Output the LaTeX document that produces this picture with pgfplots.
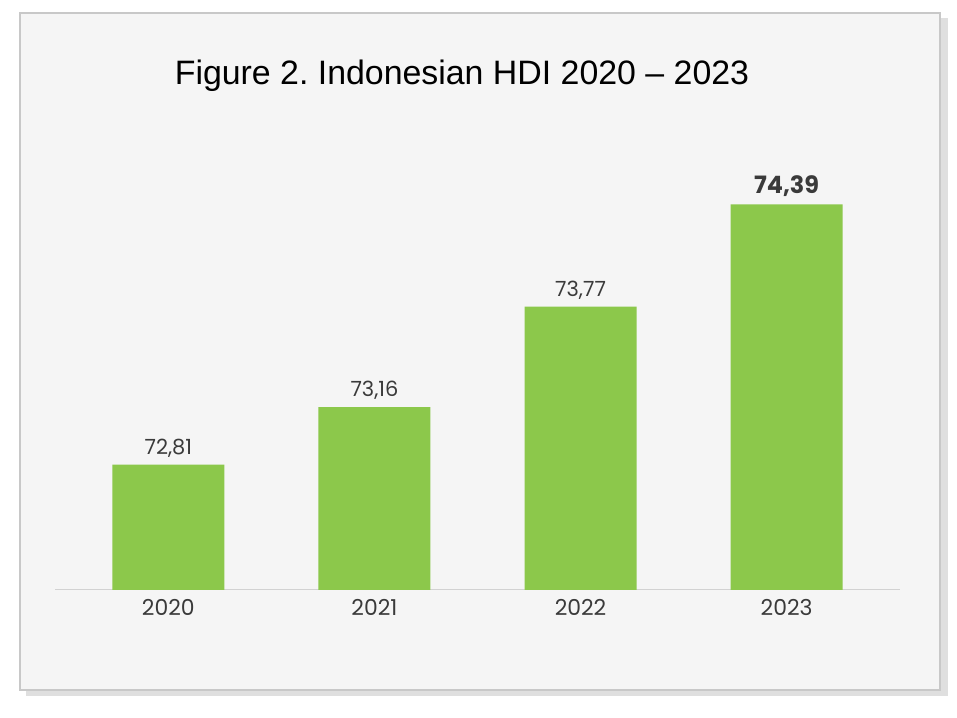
\documentclass[border=0pt]{standalone}
\usepackage{pgfplots}
\pgfplotsset{compat=1.18}
\usepackage{fontspec}
\setmainfont{Liberation Sans}
\newfontfamily\pop{Poppins}
\definecolor{bargreen}{HTML}{8CC84B}
\definecolor{panel}{HTML}{F5F5F5}
\definecolor{edge}{HTML}{C8C8C8}
\definecolor{txt}{HTML}{3A3A3A}
\frenchspacing
\begin{document}
\begin{tikzpicture}[x=1bp,y=1bp]
  \useasboundingbox (0,0) rectangle (957,718);
  \fill[white] (0,0) rectangle (957,718);
  \fill[gray!25] (26,22) rectangle (948,700);
  \filldraw[fill=panel,draw=edge,line width=1.5bp] (20,28) rectangle (940,705);
  \node[font=\fontsize{34}{40}\selectfont,text=black] at (462,642) {Figure 2. Indonesian HDI 2020 -- 2023};
\begin{axis}[
  at={(55bp,128bp)}, anchor=south west,
  scale only axis,
  width=845bp, height=440bp,
  ybar, bar width=112bp,
  xmin=-0.55, xmax=3.55,
  ymin=72.05, ymax=74.72,
  axis x line=bottom, axis y line=none,
  x axis line style={draw=gray!35, line width=1bp, -},
  xtick=data, xticklabels={2020,2021,2022,2023},
  major tick length=0pt,
  xticklabel style={font=\pop\fontsize{22}{26}\selectfont, text=txt, yshift=-6bp},
  point meta=explicit symbolic,
  nodes near coords,
  every node near coord/.append style={font=\pop\fontsize{21}{24}\selectfont, text=txt, yshift=4bp},
]
\addplot[fill=bargreen, draw=none] coordinates {
  (0,72.81) [72,81]
  (1,73.16) [73,16]
  (2,73.77) [73,77]
  (3,74.39) [{\bfseries\fontsize{24}{28}\selectfont 74,39}]
};
\end{axis}
\end{tikzpicture}
\end{document}
